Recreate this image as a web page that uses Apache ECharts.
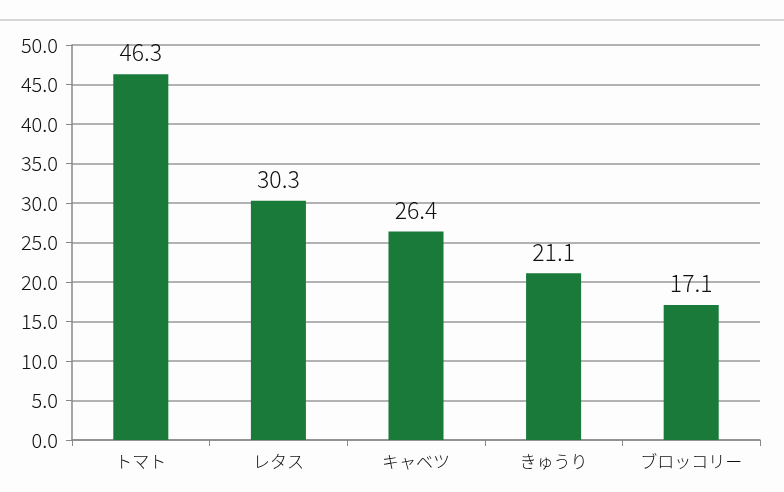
<!DOCTYPE html>
<html><head><meta charset="utf-8">
<script src="https://cdn.jsdelivr.net/npm/echarts@6/dist/echarts.min.js"></script>
<style>html,body{margin:0;background:#fdfdfd}#c{width:784px;height:492px}</style>
</head><body><div id="c"></div>
<script>
const categories = ['トマト', 'レタス', 'キャベツ', 'きゅうり', 'ブロッコリー'];
const values = [46.3, 30.3, 26.4, 21.1, 17.1];

const chart = echarts.init(document.getElementById('c'));
const font = '"Noto Sans CJK JP", sans-serif';
chart.setOption({
  backgroundColor: '#fdfdfd',
  animation: false,
  graphic: [{ type: 'line', shape: { x1: 0, y1: 20, x2: 784, y2: 20 }, style: { stroke: '#c8c8c8', lineWidth: 1.5 } }],
  grid: { left: 72, right: 24, top: 45, bottom: 52 },
  xAxis: {
    type: 'category', data: categories,
    axisLine: { lineStyle: { color: '#888', width: 1.5 } },
    axisTick: { show: true, length: 6, interval: 0, lineStyle: { color: '#888' } },
    axisLabel: { color: '#111', fontSize: 17, fontFamily: font, fontWeight: 300, margin: 13, interval: 0, hideOverlap: false }
  },
  yAxis: {
    type: 'value', min: 0, max: 50, interval: 5,
    axisLine: { show: true, lineStyle: { color: '#888', width: 1.5 } },
    axisTick: { show: true, length: 6, lineStyle: { color: '#888' } },
    splitLine: { lineStyle: { color: '#999', width: 1.5 } },
    axisLabel: { color: '#111', fontSize: 20, fontFamily: font, fontWeight: 300, formatter: v => v.toFixed(1), margin: 14 }
  },
  series: [{
    type: 'bar', data: values, barWidth: '40%',
    itemStyle: { color: '#1a7a3a' },
    label: { show: true, position: 'top', distance: 10, color: '#111', fontSize: 23, fontFamily: font, fontWeight: 300, formatter: p => p.value.toFixed(1) }
  }]
});
</script></body></html>
